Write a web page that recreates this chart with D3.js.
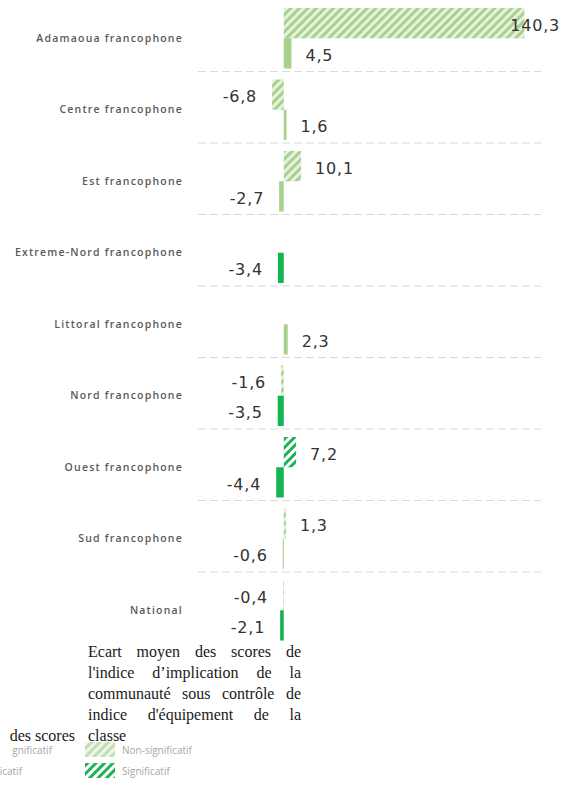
<!DOCTYPE html>
<html>
<head>
<meta charset="utf-8">
<script src="https://cdn.jsdelivr.net/npm/d3@7/dist/d3.min.js"></script>
<style>
  html, body { margin: 0; padding: 0; background: #ffffff; }
  svg { display: block; }
</style>
</head>
<body>
<svg id="chart" width="570" height="786"></svg>
<script>
// ---------- DATA ----------
const categories = [
  "Adamaoua francophone",
  "Centre francophone",
  "Est francophone",
  "Extreme-Nord francophone",
  "Littoral francophone",
  "Nord francophone",
  "Ouest francophone",
  "Sud francophone",
  "National"
];
// Top bar (hatched): écart moyen sous contrôle de l'indice d'équipement de la classe
const topValues = [140.3, -6.8, 10.1, null, null, -1.6, 7.2, 1.3, -0.4];
const topSignificant = [false, false, false, null, null, false, true, false, false];
// Bottom bar (solid): écart moyen des scores
const bottomValues = [4.5, 1.6, -2.7, -3.4, 2.3, -3.5, -4.4, -0.6, -2.1];
const bottomSignificant = [false, false, false, true, false, true, true, false, true];
const xDomain = [-50, 150];

const legendTitleLines = [
  "Ecart moyen des scores de",
  "l'indice d\u2019implication de la",
  "communauté sous contrôle de",
  "indice d'équipement de la",
  "classe"
];
const legendItems = ["Non-significatif", "Significatif"];

// ---------- CHART ----------
const svg = d3.select("#chart");
const W = 570;

const defs = svg.append("defs");
function hatch(id, bg, fg) {
  const p = defs.append("pattern")
    .attr("id", id)
    .attr("patternUnits", "userSpaceOnUse")
    .attr("width", 6).attr("height", 6)
    .attr("patternTransform", "rotate(45)");
  p.append("rect").attr("width", 6).attr("height", 6).attr("fill", bg);
  p.append("rect").attr("width", 3).attr("height", 6).attr("fill", fg);
}
hatch("hatchNS", "#e6f1df", "#a9d18e");
hatch("hatchS", "#ffffff", "#1db257");

const colors = {
  topNS: "url(#hatchNS)",
  topS: "url(#hatchS)",
  botNS: "#a9d18e",
  botS: "#14b452"
};

const x = d3.scaleLinear().domain(xDomain).range([198, 541]);
const y0 = d3.scaleBand().domain(categories).range([0, 643.5]);
const y1 = d3.scaleBand().domain(["top", "bottom"]).range([8, y0.bandwidth() - 3]);

// gridlines between categories
svg.append("g").selectAll("line")
  .data(categories.slice(0, -1))
  .join("line")
  .attr("x1", x.range()[0]).attr("x2", x.range()[1])
  .attr("y1", d => y0(d) + y0.bandwidth())
  .attr("y2", d => y0(d) + y0.bandwidth())
  .attr("stroke", "#d9d9d9")
  .attr("stroke-width", 1)
  .attr("stroke-dasharray", "8,4");

// category axis
const yAxis = svg.append("g")
  .attr("transform", "translate(186,2.5)")
  .call(d3.axisLeft(y0).tickSize(0).tickPadding(3));
yAxis.select(".domain").remove();
yAxis.selectAll("text")
  .attr("font-family", "'Open Sans', sans-serif")
  .attr("font-size", "10.5px")
  .attr("font-weight", 600)
  .attr("letter-spacing", "1.2px")
  .attr("fill", "#5a5a5a");

// bar data
const bars = [];
categories.forEach((c, i) => {
  if (topValues[i] !== null) bars.push({cat: c, series: "top", v: topValues[i], sig: topSignificant[i]});
  if (bottomValues[i] !== null) bars.push({cat: c, series: "bottom", v: bottomValues[i], sig: bottomSignificant[i]});
});

function fillOf(d) {
  if (d.series === "top") return d.sig ? colors.topS : colors.topNS;
  return d.sig ? colors.botS : colors.botNS;
}

svg.append("g").selectAll("rect")
  .data(bars)
  .join("rect")
  .attr("x", d => Math.min(x(0), x(d.v)))
  .attr("width", d => Math.abs(x(d.v) - x(0)))
  .attr("y", d => y0(d.cat) + y1(d.series))
  .attr("height", y1.bandwidth())
  .attr("fill", fillOf);

const fmt = v => String(v.toFixed(1)).replace(".", ",");

const labels = svg.append("g").selectAll("text")
  .data(bars)
  .join("text")
  .attr("x", d => d.v >= 0 ? x(d.v) + 14 : x(d.v) - 15)
  .attr("y", d => y0(d.cat) + y1(d.series) + y1.bandwidth() / 2 + 2)
  .attr("dominant-baseline", "central")
  .attr("text-anchor", d => d.v >= 0 ? "start" : "end")
  .attr("font-family", "'DejaVu Sans', sans-serif")
  .attr("font-size", "16px")
  .attr("letter-spacing", "0.8px")
  .attr("fill", "#333333")
  .text(d => fmt(d.v));

// keep labels inside the picture
labels.each(function() {
  const b = this.getBBox();
  if (b.x + b.width > W - 10) {
    d3.select(this).attr("text-anchor", "end").attr("x", W - 10);
  }
});

// ---------- LEGEND ----------
const lg = svg.append("g");
const titleLeft = 88, titleRight = 301, lineH = 21, firstBase = 657;
legendTitleLines.forEach((line, li) => {
  const words = line.split(" ");
  const yb = firstBase + li * lineH;
  const tmp = words.map(w => lg.append("text")
    .attr("font-family", "'Liberation Serif', 'Times New Roman', serif")
    .attr("font-size", "16px")
    .attr("fill", "#1a1a1a")
    .attr("y", yb)
    .text(w));
  const widths = tmp.map(t => t.node().getComputedTextLength());
  const total = d3.sum(widths);
  const last = li === legendTitleLines.length - 1;
  const gap = (!last && words.length > 1) ? (titleRight - titleLeft - total) / (words.length - 1) : 4;
  let cx = titleLeft;
  tmp.forEach((t, k) => { t.attr("x", cx); cx += widths[k] + gap; });
});

// partially visible neighbouring legend (cut by the picture's left edge)
lg.append("text")
  .attr("x", 75).attr("y", firstBase + 4 * lineH)
  .attr("text-anchor", "end")
  .attr("font-family", "'Liberation Serif', 'Times New Roman', serif")
  .attr("font-size", "16px")
  .attr("fill", "#1a1a1a")
  .text("des scores");

const leftCut = ["gnificatif", "icatif"];

legendItems.forEach((item, i) => {
  const yy = 742 + i * 21;
  lg.append("rect")
    .attr("x", 85).attr("y", yy)
    .attr("width", 30).attr("height", 15)
    .attr("fill", i === 0 ? colors.topNS : colors.topS)
    .attr("opacity", i === 0 ? 0.7 : 1);
  lg.append("text")
    .attr("x", 122).attr("y", yy + 8)
    .attr("dominant-baseline", "central")
    .attr("font-family", "'Open Sans', sans-serif")
    .attr("font-size", "10px")
    .attr("fill", "#a6a6a6")
    .text(item);
  lg.append("text")
    .attr("x", i === 0 ? 52 : 22).attr("y", yy + 8)
    .attr("text-anchor", "end")
    .attr("dominant-baseline", "central")
    .attr("font-family", "'Open Sans', sans-serif")
    .attr("font-size", "10px")
    .attr("fill", "#a6a6a6")
    .text(leftCut[i]);
});
</script>
</body>
</html>
